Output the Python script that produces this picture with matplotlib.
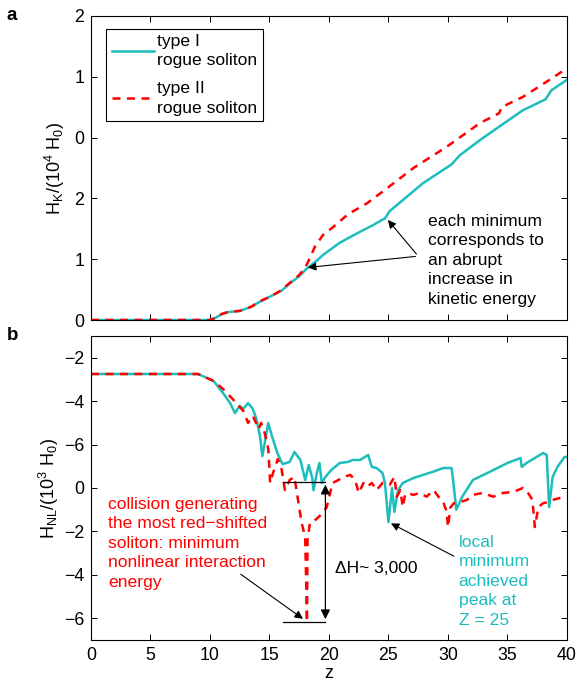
import matplotlib
matplotlib.use("Agg")
import matplotlib.pyplot as plt

plt.rcParams['font.family'] = ['Liberation Sans', 'DejaVu Sans']
plt.rcParams['mathtext.default'] = 'regular'

CYAN = '#1DBDBD'
RED = '#FF0000'

# --- panel a: kinetic energy (axis units, ticks relabelled like the original)
z_k1 = [0, 10, 10.5, 11, 11.5, 12.5, 13.5, 14, 15, 16, 16.7, 17.5, 18.1, 19, 19.5,
        20.9, 22.4, 23.7, 24.4, 24.7, 25.1, 26.5, 27.9, 29.3, 30.3, 31, 32.7, 34.6,
        36.3, 38.2, 38.7, 40]
hk_type1 = [0, 0, 0.04, 0.10, 0.13, 0.15, 0.22, 0.28, 0.38, 0.48, 0.60, 0.72, 0.84,
            0.98, 1.07, 1.27, 1.43, 1.56, 1.64, 1.67, 1.79, 2.02, 2.25, 2.43, 2.56,
            2.71, 2.96, 3.22, 3.45, 3.63, 3.78, 3.95]
z_k2 = [0, 10, 10.5, 11, 11.5, 12.5, 13.5, 14, 15, 16, 16.7, 17.5, 18.0, 18.4, 18.8,
        19.5, 20.3, 21.6, 23.2, 24.7, 27.1, 29.9, 32.7, 34.3, 34.5, 36.3, 38.3, 40]
hk_type2 = [0, 0, 0.04, 0.10, 0.13, 0.15, 0.22, 0.29, 0.38, 0.49, 0.61, 0.74, 0.86,
            1.02, 1.20, 1.40, 1.52, 1.74, 1.92, 2.14, 2.50, 2.85, 3.24, 3.40, 3.50,
            3.67, 3.92, 4.14]
hk_ticks = [0, 1, 2, 3, 4, 5]
hk_ticklabels = ['0', '1', '2', '0', '1', '2']

# --- panel b: nonlinear interaction energy
z_n1 = [0, 9.0, 9.2, 10.3, 11.1, 11.7, 12.1, 12.5, 12.8, 13.2, 13.6, 13.9, 14.2, 14.4,
        14.6, 14.9, 15.2, 15.7, 16.1, 16.7, 17.1, 17.6, 18.0, 18.3, 18.6, 18.7, 19.0,
        19.2, 19.4, 19.7, 20.2, 20.9, 21.6, 22.0, 22.6, 23.3, 23.6, 24.0, 24.5, 24.7,
        25.0, 25.3, 25.5, 25.8, 26.2, 27.1, 27.9, 28.7, 29.6, 30.3, 30.4, 30.7, 31.2,
        32.1, 33.5, 35.0, 36.1, 36.2, 36.6, 38.0, 38.3, 38.5, 38.8, 39.2, 39.8, 40]
hnl_type1 = [5.25, 5.25, 5.2, 4.93, 4.37, 3.91, 3.45, 3.78, 3.64, 3.91, 3.64, 3.18, 2.40,
             1.47, 2.07, 2.99, 2.40, 1.56, 1.10, 1.20, 1.66, 1.29, 0.37, 1.06, 0.46,
             -0.1, 0.74, 1.15, 0.23, 0.51, 0.83, 1.15, 1.20, 1.29, 1.29, 1.52, 0.97,
             0.92, 0.69, 0.23, -1.57, 0.0, -1.1, -0.1, 0.23, 0.46, 0.60, 0.74, 0.92,
             0.92, 0.51, -1.0, -0.4, 0.37, 0.74, 1.15, 1.38, 0.97, 1.15, 1.61, 1.52,
             -0.88, 0.51, 0.97, 1.43, 1.43]
z_n2 = [0, 9.0, 9.2, 10.3, 11.1, 11.9, 12.8, 13.2, 13.6, 14.1, 14.3, 14.6, 14.9, 15.0,
        15.05, 15.3, 15.7, 16.0, 16.3, 16.7, 17.1, 17.4, 17.7, 18.0, 18.1, 18.15, 18.2,
        18.4, 18.8, 19.2, 19.8, 20.3, 20.8, 21.2, 21.8, 22.2, 22.5, 22.9, 23.2, 23.6,
        24.0, 24.5, 25.1, 25.5, 25.7, 26.0, 26.2, 26.4, 26.6, 27.1, 27.6, 28.2, 28.8,
        29.2, 29.6, 29.9, 30.0, 30.2, 30.5, 31.0, 31.6, 32.1, 32.9, 33.8, 34.6, 35.5,
        36.3, 36.7, 37.1, 37.3, 37.6, 38.0, 38.4, 38.8, 39.4, 40]
hnl_type2 = [5.25, 5.25, 5.2, 4.93, 4.56, 4.1, 3.55, 3.0, 3.32, 2.72, 3.0, 2.53, 1.8,
             0.87, 0.23, 0.69, 1.33, 0.92, -0.1, 0.37, 0.51, -0.55, -1.6, -2.26, -4.7,
             -6.17, -2.4, -1.6, -1.5, -1.3, -0.9, 0.23, 0.37, 0.51, 0.6, 0.37, -0.23,
             0.23, 0.05, 0.23, -0.1, 0.23, 0.14, 0.51, -0.4, -0.1, -0.88, -0.3, -0.23,
             -0.32, -0.23, -0.4, -0.1, -0.4, -0.65, -1.1, -1.8, -0.9, -0.7, -0.65, -0.55,
             -0.32, -0.23, -0.4, -0.23, -0.18, 0.0, -0.2, -0.55, -1.8, -0.88, -0.7,
             -0.65, -0.55, -0.46, -0.4]
hnl_ticks = [-6, -4, -2, 0, 2, 4, 6]
hnl_ticklabels = ['\u22126', '\u22124', '\u22122', '0', '\u22126', '\u22124', '\u22122']
z_ticks = [0, 5, 10, 15, 20, 25, 30, 35, 40]

FS = 12.6
LS = 1.38

fig = plt.figure(figsize=(5.78, 6.86), dpi=100)
ax1 = fig.add_axes([0.1574, 0.5335, 0.8235, 0.4432])
ax2 = fig.add_axes([0.1574, 0.0671, 0.8235, 0.4431])

for ax in (ax1, ax2):
    ax.set_xlim(0, 40)
    ax.set_xticks(z_ticks)
    ax.tick_params(direction='in', top=True, right=True, length=4.5, labelsize=12.8,
                   width=0.7, pad=5)
    for s in ax.spines.values():
        s.set_linewidth(0.8)

# top
ax1.plot(z_k1, hk_type1, color=CYAN, lw=1.8, label='type I\nrogue soliton')
ax1.plot(z_k2, hk_type2, color=RED, lw=1.8, ls=(0, (3.2, 2.6)), label='type II\nrogue soliton')
ax1.set_ylim(0, 5)
ax1.set_yticks(hk_ticks)
ax1.set_yticklabels(hk_ticklabels)
ax1.set_xticklabels([])
ax1.set_ylabel('H$_K$/(10$^4$ H$_0$)', fontsize=13, labelpad=5)
leg = ax1.legend(loc='upper left', bbox_to_anchor=(0.025, 0.97), fontsize=FS,
                 fancybox=False, edgecolor='black', framealpha=1, handlelength=2.4,
                 borderpad=0.3, labelspacing=0.72, handletextpad=0.2, borderaxespad=0.2)
for t in leg.get_texts():
    t.set_linespacing(LS)
leg.get_frame().set_linewidth(0.8)

ann_k = dict(arrowstyle='-|>', color='black', lw=0.8, mutation_scale=12)
ax1.annotate('', xy=(24.8, 1.68), xytext=(27.5, 1.05), arrowprops=ann_k)
ax1.annotate('', xy=(18.0, 0.86), xytext=(27.5, 1.05), arrowprops=ann_k)
ax1.text(28.3, 1.75, 'each minimum\ncorresponds to\nan abrupt\nincrease in\nkinetic energy',
         fontsize=FS, va='top', ha='left', linespacing=LS)

# bottom
ax2.plot(z_n1, hnl_type1, color=CYAN, lw=1.8)
ax2.plot(z_n2, hnl_type2, color=RED, lw=1.8, ls=(0, (3.2, 2.6)))
ax2.set_ylim(-7, 7)
ax2.set_yticks(hnl_ticks)
ax2.set_yticklabels(hnl_ticklabels)
ax2.set_xlabel('z', fontsize=13, labelpad=1)
ax2.set_ylabel('H$_{NL}$/(10$^3$ H$_0$)', fontsize=13, labelpad=2)

ax2.plot([16.1, 19.7], [0.28, 0.28], color='black', lw=0.9)
ax2.plot([16.1, 19.7], [-6.17, -6.17], color='black', lw=0.9)
ax2.annotate('', xy=(19.7, 0.28), xytext=(19.7, -6.17),
             arrowprops=dict(arrowstyle='<|-|>', color='black', lw=0.9, mutation_scale=14))
ax2.text(20.5, -3.7, '\u0394H~ 3,000', fontsize=FS, va='center', ha='left')

ax2.text(1.45, -0.4, 'collision generating\nthe most red\u2212shifted\nsoliton: minimum\nnonlinear interaction\nenergy',
         color=RED, fontsize=FS, va='top', ha='left', linespacing=LS)
ax2.annotate('', xy=(18.0, -6.1), xytext=(12.4, -3.9),
             arrowprops=dict(arrowstyle='-|>', color='black', lw=0.8, mutation_scale=12))

ax2.text(30.9, -2.15, 'local\nminimum\nachieved\npeak at\nZ = 25', color=CYAN,
         fontsize=FS, va='top', ha='left', linespacing=LS)
ax2.annotate('', xy=(25.0, -1.57), xytext=(30.7, -3.2),
             arrowprops=dict(arrowstyle='-|>', color='black', lw=0.8, mutation_scale=12))

fig.text(0.012, 0.99, 'a', fontsize=13.5, fontweight='bold', va='top')
fig.text(0.012, 0.523, 'b', fontsize=13.5, fontweight='bold', va='top')

fig.savefig('out.png', dpi=100)
